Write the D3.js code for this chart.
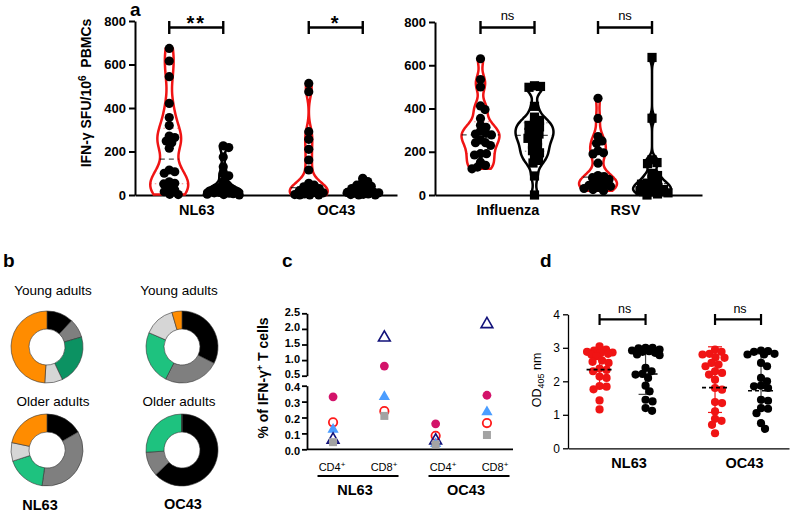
<!DOCTYPE html>
<html><head><meta charset="utf-8">
<script src="https://cdn.jsdelivr.net/npm/d3@7"></script>
<style>
body{margin:0;background:#fff}
svg text{font-family:"Liberation Sans",Arial,Helvetica,sans-serif}
</style></head>
<body><svg id="fig" width="792" height="513"></svg>
<script>
// ---------------- DATA ----------------
// panel a
const aLeftCategories = ["NL63", "OC43"];
const aRightCategories = ["Influenza", "RSV"];
const ageGroups = ["Young adults", "Older adults"];
const aTicks = [0, 200, 400, 600, 800];
const nl63Young = [674, 616, 544, 421, 356, 319, 271, 264, 248, 240, 215, 115, 107, 100, 61, 54, 51, 31, 23, 15, 3, 2];
const nl63Older = [226, 218, 175, 130, 98, 88, 62, 45, 38, 30, 25, 20, 18, 15, 12, 10, 8, 6, 4, 2, 0];
const oc43Young = [513, 475, 291, 256, 210, 161, 115, 54, 45, 38, 30, 23, 20, 12, 10, 5, 2, 0, 0, 0];
const oc43Older = [77, 62, 48, 45, 40, 30, 25, 20, 15, 12, 10, 8, 5, 3, 2, 0, 0];
const fluYoung = [630, 534, 500, 412, 395, 354, 323, 313, 296, 285, 282, 278, 255, 242, 242, 229, 191, 191, 185, 152, 137, 129, 121];
const fluOlder = [505, 502, 498, 410, 360, 345, 330, 322, 315, 300, 290, 282, 270, 262, 250, 235, 220, 205, 195, 180, 160, 148, 88, 0];
const rsvYoung = [447, 354, 270, 250, 239, 205, 195, 190, 147, 90, 85, 80, 72, 65, 55, 50, 45, 40, 35, 30, 25, 20];
const rsvOlder = [636, 355, 163, 150, 145, 100, 90, 72, 62, 55, 50, 42, 35, 30, 25, 20, 15, 10, 5, 0];
const aSignificance = ["**", "*", "ns", "ns"];

// panel b (percent of responders, clockwise from 12 o'clock)
const donutSegments = ["black", "grey", "green", "light grey", "orange"];
const nl63YoungDonut = [12, 8.5, 22.5, 8, 49];
const oc43YoungDonut = [32.5, 25, 24, 14, 4.5];
const nl63OlderDonut = [16.7, 35.5, 17.8, 8.3, 21.7];
const oc43OlderDonut = [63, 11, 26, 0, 0];

// panel c
const cCategories = ["NL63 CD4+", "NL63 CD8+", "OC43 CD4+", "OC43 CD8+"];
const cGroups = ["NL63", "OC43"];
const cSubsets = ["CD4", "CD8"];
const cTicksLow = [0.0, 0.1, 0.2, 0.3, 0.4];
const cTicksHigh = [0.5, 1.0, 1.5, 2.0, 2.5];
const cMagentaCircle = [0.33, 0.81, 0.16, 0.34];
const cRedOpenCircle = [0.17, 0.24, 0.085, 0.165];
const cBlueTriangle = [0.125, 0.33, 0.035, 0.235];
const cNavyOpenTriangle = [0.06, 1.72, 0.055, 2.15];
const cGreySquare = [0.045, 0.21, 0.03, 0.09];

// panel d
const dCategories = ["NL63", "OC43"];
const dTicks = [0, 1, 2, 3, 4];
const dNl63Young = [3.04, 2.95, 2.92, 2.88, 2.86, 2.84, 2.82, 2.79, 2.75, 2.62, 2.58, 2.55, 2.38, 2.34, 2.3, 2.14, 2.1, 1.86, 1.84, 1.76, 1.43, 1.16];
const dNl63Older = [3.0, 3.0, 2.98, 2.95, 2.92, 2.9, 2.88, 2.85, 2.8, 2.78, 2.4, 2.3, 2.22, 2.2, 2.1, 1.87, 1.7, 1.45, 1.4, 1.2, 1.12];
const dOc43Young = [2.95, 2.88, 2.82, 2.8, 2.72, 2.7, 2.55, 2.5, 2.45, 2.3, 2.25, 2.2, 2.05, 1.8, 1.75, 1.38, 1.35, 1.1, 0.88, 0.82, 0.7, 0.45];
const dOc43Older = [2.92, 2.9, 2.88, 2.82, 2.8, 2.8, 2.55, 2.45, 2.1, 2.0, 1.87, 1.85, 1.8, 1.45, 1.42, 1.2, 1.18, 1.05, 0.75, 0.58];
const dMedian = [2.35, 2.22, 1.81, 1.72];
const dLow = [1.79, 1.61, 1.07, 1.12];
const dHigh = [2.93, 2.85, 3.03, 2.82];

// ---------------- HELPERS ----------------
const svg = d3.select("#fig");
const RED = "#f01414";

function swarm(vals, y, cx, r, k, cap) {
  const order = vals.map((v, i) => i).sort((a, b) => vals[b] - vals[a]);
  const placed = [], out = new Array(vals.length), d = 2 * r * k;
  for (const i of order) {
    const yy = y(vals[i]); let best = 0, bestD = -1;
    for (let s = 0; s < 1000; s++) {
      const off = s === 0 ? 0 : (s % 2 ? 1 : -1) * Math.ceil(s / 2) * 0.5;
      if (Math.abs(off) > cap) break;
      const md = placed.length ? d3.min(placed, p => Math.hypot(p.x - off, p.y - yy)) : Infinity;
      if (md >= d) { best = off; bestD = md; break; }
      if (md > bestD + 0.01) { best = off; bestD = md; }
    }
    placed.push({x: best, y: yy});
    out[i] = {x: cx + best, y: yy, v: vals[i]};
  }
  return out;
}
function kdeShape(vals, n) {
  const sd = d3.deviation(vals), s = vals.slice().sort(d3.ascending);
  const iqr = d3.quantileSorted(s, 0.75) - d3.quantileSorted(s, 0.25);
  const h = 0.62 * 0.9 * Math.min(sd, iqr / 1.34 || sd) * Math.pow(vals.length, -0.2);
  const lo = d3.min(vals), hi = d3.max(vals);
  const pts = d3.range(n + 1).map(i => lo + (hi - lo) * i / n);
  const dens = pts.map(t => d3.mean(vals, v => Math.exp(-0.5 * ((t - v) / h) ** 2)));
  const m = d3.max(dens);
  return pts.map((t, i) => [t, dens[i] / m]);
}
function styleAxis(g, w, size, weight) {
  g.select(".domain").attr("stroke-width", w);
  g.selectAll(".tick line").attr("stroke-width", w);
  g.selectAll(".tick text").attr("font-size", size).attr("font-weight", weight).attr("fill", "#000");
}

// ---------------- PANEL A ----------------
const aY = d3.scaleLinear().domain([0, 800]).range([195, 21]);
const aYR = d3.scaleLinear().domain([0, 800]).range([195, 22]);
const aXL = d3.scalePoint().domain(aLeftCategories).range([135, 397]).padding(0.439);
const aXR = d3.scalePoint().domain(aRightCategories).range([435, 702]).padding(0.636).align(0.485);
const aSub = d3.scalePoint().domain(ageGroups).range([-27, 27]);

[[aXL, aY, 135], [aXR, aYR, 435]].forEach(([xs, ys, x0]) => {
  const gy = svg.append("g").attr("transform", `translate(${x0},0)`)
    .call(d3.axisLeft(ys).tickValues(aTicks).tickSize(6).tickSizeOuter(0).tickPadding(3));
  styleAxis(gy, 2, 13, "bold");
  const gx = svg.append("g").attr("transform", `translate(0,195)`)
    .call(d3.axisBottom(xs).tickSize(0).tickSizeOuter(0).tickPadding(10));
  styleAxis(gx, 2, 14.5, "bold");
});

const aGroups = [
  {cat: "NL63", xs: aXL, ys: aY, young: nl63Young, older: nl63Older, sq: false, sig: aSignificance[0]},
  {cat: "OC43", xs: aXL, ys: aY, young: oc43Young, older: oc43Older, sq: false, sig: aSignificance[1]},
  {cat: "Influenza", xs: aXR, ys: aYR, young: fluYoung, older: fluOlder, sq: true, sig: aSignificance[2]},
  {cat: "RSV", xs: aXR, ys: aYR, young: rsvYoung, older: rsvOlder, sq: true, sig: aSignificance[3]}
];
const gA = svg.append("g");
aGroups.forEach(G => {
  [[G.young, RED, ageGroups[0], false], [G.older, "#000", ageGroups[1], G.sq]].forEach(([vals, col, age, sq]) => {
    const cx = G.xs(G.cat) + aSub(age);
    const shape = kdeShape(vals, 80);
    const hw = 19;
    const area = d3.area().y(d => G.ys(d[0])).x0(d => cx - hw * d[1]).x1(d => cx + hw * d[1]).curve(d3.curveBasis);
    gA.append("path").attr("d", area(shape)).attr("fill", "none").attr("stroke", col).attr("stroke-width", 2.5);
    const s = vals.slice().sort(d3.ascending);
    const dens = v => { let best = shape[0]; shape.forEach(p => { if (Math.abs(p[0] - v) < Math.abs(best[0] - v)) best = p; }); return best[1]; };
    [0.25, 0.5, 0.75].forEach(q => {
      const v = d3.quantileSorted(s, q), w = hw * dens(v);
      gA.append("line").attr("x1", cx - w).attr("x2", cx + w).attr("y1", G.ys(v)).attr("y2", G.ys(v))
        .attr("stroke", q === 0.5 ? "#000" : col).attr("stroke-width", q === 0.5 ? 1.2 : 1)
        .attr("stroke-dasharray", q === 0.5 ? "5,4" : "1.5,3").attr("opacity", q === 0.5 ? 0.7 : 0.5);
    });
    const pts = swarm(vals, G.ys, cx, 4.6, 0.62, 16);
    if (sq) {
      gA.selectAll(null).data(pts).join("rect").attr("x", d => d.x - 4.6).attr("y", d => d.y - 4.6)
        .attr("width", 9.2).attr("height", 9.2).attr("fill", "#000");
    } else {
      gA.selectAll(null).data(pts).join("circle").attr("cx", d => d.x).attr("cy", d => d.y).attr("r", 4.6).attr("fill", "#000");
    }
  });
  // significance bracket
  const x1 = G.xs(G.cat) + aSub(ageGroups[0]), x2 = G.xs(G.cat) + aSub(ageGroups[1]);
  const b = gA.append("g").attr("stroke", "#000").attr("stroke-width", 2.4);
  b.append("line").attr("x1", x1).attr("x2", x2).attr("y1", 27.5).attr("y2", 27.5);
  b.append("line").attr("x1", x1).attr("x2", x1).attr("y1", 21).attr("y2", 34);
  b.append("line").attr("x1", x2).attr("x2", x2).attr("y1", 21).attr("y2", 34);
  const star = G.sig !== "ns";
  gA.append("text").attr("x", (x1 + x2) / 2).attr("y", star ? 29.5 : 20).attr("text-anchor", "middle")
    .attr("font-size", star ? 20 : 13).attr("font-weight", star ? "bold" : "normal")
    .attr("letter-spacing", star ? 2 : 0).text(G.sig);
});
// y title
const tA = svg.append("text").attr("transform", "translate(91,93) rotate(-90)").attr("text-anchor", "middle")
  .attr("font-size", 14).attr("font-weight", "bold");
tA.append("tspan").text("IFN-γ SFU/10");
tA.append("tspan").attr("dy", -5).attr("font-size", 10).text("6");
tA.append("tspan").attr("dy", 5).text("\u00a0 PBMCs");

// ---------------- PANEL B ----------------
const donutColors = {"black": "#000000", "grey": "#7f7f7f", "green": "#1ec27f", "light grey": "#d6d6d6", "orange": "#ff8c00"};
const donutColorsDark = Object.assign({}, donutColors, {"green": "#0c9262"});
const pie = d3.pie().sort(null).value(d => d.v);
const arc = d3.arc().innerRadius(18).outerRadius(36);
const donuts = [
  {vals: nl63YoungDonut, cx: 47, cy: 347, cols: donutColorsDark},
  {vals: oc43YoungDonut, cx: 182, cy: 347, cols: donutColors},
  {vals: nl63OlderDonut, cx: 47, cy: 450, cols: donutColors},
  {vals: oc43OlderDonut, cx: 182, cy: 450, cols: donutColors}
];
donuts.forEach(D => {
  const g = svg.append("g").attr("transform", `translate(${D.cx},${D.cy})`);
  g.selectAll("path").data(pie(D.vals.map((v, i) => ({v, k: donutSegments[i]})))).join("path")
    .attr("d", arc).attr("fill", d => D.cols[d.data.k]).attr("stroke", "#333").attr("stroke-width", 0.6);
});
[[53, 295, ageGroups[0]], [179, 295, ageGroups[0]], [53, 406, ageGroups[1]], [179, 406, ageGroups[1]]].forEach(([x, y, t]) =>
  svg.append("text").attr("x", x).attr("y", y).attr("text-anchor", "middle").attr("font-size", 13.5).text(t));
[[40, 510, aLeftCategories[0]], [183, 509, aLeftCategories[1]]].forEach(([x, y, t]) =>
  svg.append("text").attr("x", x).attr("y", y).attr("text-anchor", "middle").attr("font-size", 14.5).attr("font-weight", "bold").text(t));

// ---------------- PANEL C ----------------
const cX = d3.scalePoint().domain(cCategories).range([307, 513]).padding(0.508);
const cYLow = d3.scaleLinear().domain([0, 0.4]).range([449.3, 385.7]);
const cYHigh = d3.scaleLinear().domain([0.5, 2.5]).range([375.7, 313.3]);
const cY = v => v <= 0.45 ? cYLow(v) : cYHigh(v);
const fmt1 = d3.format(".1f");
[[cYLow, cTicksLow, 1.5], [cYHigh, cTicksHigh, -1.5]].forEach(([sc, tv, nudge]) => {
  const g = svg.append("g").attr("transform", "translate(307,0)")
    .call(d3.axisLeft(sc).tickValues(tv).tickFormat(fmt1).tickSize(5).tickSizeOuter(0).tickPadding(2));
  styleAxis(g, 1.8, 11, "bold");
  g.selectAll(".tick text").attr("y", nudge);
});
svg.append("line").attr("x1", 307).attr("x2", 513).attr("y1", 449.3).attr("y2", 449.3).attr("stroke", "#000").attr("stroke-width", 1.8);
const cGroupX = d3.scalePoint().domain(cGroups).range([307, 513]).padding(0.428).align(0.537);
const cSubX = d3.scalePoint().domain(cSubsets).range([-26, 26]);
cGroups.forEach(gname => {
  const gx = cGroupX(gname);
  cSubsets.forEach(sub => {
    const t = svg.append("text").attr("x", gx + cSubX(sub)).attr("y", 471).attr("text-anchor", "middle").attr("font-size", 11);
    t.append("tspan").text(sub);
    t.append("tspan").attr("dy", -4).attr("font-size", 8).text("+");
  });
  svg.append("line").attr("x1", gx - 40.5).attr("x2", gx + 40.5).attr("y1", 476).attr("y2", 476).attr("stroke", "#000").attr("stroke-width", 1.8);
  svg.append("text").attr("x", gx - 3).attr("y", 495).attr("text-anchor", "middle").attr("font-size", 14.5).attr("font-weight", "bold").text(gname);
});
const tC = svg.append("text").attr("transform", "translate(268,378) rotate(-90)").attr("text-anchor", "middle")
  .attr("font-size", 14).attr("font-weight", "bold");
tC.append("tspan").text("% of IFN-γ");
tC.append("tspan").attr("dy", -5).attr("font-size", 9).text("+");
tC.append("tspan").attr("dy", 5).text(" T cells");
const gC = svg.append("g");
gC.selectAll(null).data(cMagentaCircle).join("circle").attr("cx", (d, i) => cX(cCategories[i])).attr("cy", d => cY(d)).attr("r", 4.4).attr("fill", "#d3136a");
gC.selectAll(null).data(cRedOpenCircle).join("circle").attr("cx", (d, i) => cX(cCategories[i])).attr("cy", d => cY(d)).attr("r", 4.2).attr("fill", "#fff").attr("stroke", "#ff1a1a").attr("stroke-width", 1.8);
const tri = d3.symbol().type(d3.symbolTriangle);
gC.selectAll(null).data(cBlueTriangle).join("path").attr("d", tri.size(55)()).attr("transform", (d, i) => `translate(${cX(cCategories[i])},${cY(d)})`).attr("fill", "#4b9dff");
gC.selectAll(null).data(cNavyOpenTriangle).join("path").attr("d", tri.size(60)()).attr("transform", (d, i) => `translate(${cX(cCategories[i])},${cY(d)})`).attr("fill", "none").attr("stroke", "#12127a").attr("stroke-width", 1.6);
gC.selectAll(null).data(cGreySquare).join("rect").attr("x", (d, i) => cX(cCategories[i]) - 4).attr("y", d => cY(d) - 4).attr("width", 8).attr("height", 8).attr("fill", "#a3a3a3");

// ---------------- PANEL D ----------------
const dY = d3.scaleLinear().domain([0, 4]).range([448.3, 314.3]);
const dX = d3.scalePoint().domain(dCategories).range([568, 789]).padding(0.457).align(0.517);
const dSub = d3.scalePoint().domain(ageGroups).range([-23, 23]);
const gdy = svg.append("g").attr("transform", "translate(568,0)")
  .call(d3.axisLeft(dY).tickValues(dTicks).tickFormat(d3.format("d")).tickSize(5).tickSizeOuter(0).tickPadding(3));
styleAxis(gdy, 1.3, 12, "normal");
const gdx = svg.append("g").attr("transform", "translate(0,448.3)")
  .call(d3.axisBottom(dX).tickSize(0).tickSizeOuter(0).tickPadding(9));
styleAxis(gdx, 1.3, 14.5, "bold");
gdx.selectAll(".tick text").attr("dx", 6);
const tD = svg.append("text").attr("transform", "translate(541,380) rotate(-90)").attr("text-anchor", "middle").attr("font-size", 12.5);
tD.append("tspan").text("OD");
tD.append("tspan").attr("dy", 3).attr("font-size", 9).text("405");
tD.append("tspan").attr("dy", -3).text(" nm");
const dSets = [[dNl63Young, "NL63", ageGroups[0], RED], [dNl63Older, "NL63", ageGroups[1], "#000"],
               [dOc43Young, "OC43", ageGroups[0], RED], [dOc43Older, "OC43", ageGroups[1], "#000"]];
const gD = svg.append("g");
dSets.forEach(([vals, cat, age, col], i) => {
  const cx = dX(cat) + dSub(age);
  const ec = col === "#000" ? "#444" : col;
  gD.append("line").attr("x1", cx).attr("x2", cx).attr("y1", dY(dLow[i])).attr("y2", dY(dHigh[i])).attr("stroke", ec).attr("stroke-width", 1.2);
  [dLow[i], dHigh[i]].forEach(v => gD.append("line").attr("x1", cx - 7).attr("x2", cx + 7).attr("y1", dY(v)).attr("y2", dY(v)).attr("stroke", ec).attr("stroke-width", 1.2));
  const pts = swarm(vals, dY, cx, 4.1, 0.82, 14);
  gD.selectAll(null).data(pts).join("circle").attr("cx", d => d.x).attr("cy", d => d.y).attr("r", 4.1).attr("fill", col);
  gD.append("line").attr("x1", cx - 13).attr("x2", cx + 13).attr("y1", dY(dMedian[i])).attr("y2", dY(dMedian[i]))
    .attr("stroke", "#000").attr("stroke-width", 1.6).attr("stroke-dasharray", "4,3");
});
dCategories.forEach(cat => {
  const x1 = dX(cat) + dSub(ageGroups[0]), x2 = dX(cat) + dSub(ageGroups[1]);
  const b = gD.append("g").attr("stroke", "#000").attr("stroke-width", 2.2);
  b.append("line").attr("x1", x1).attr("x2", x2).attr("y1", 319.3).attr("y2", 319.3);
  b.append("line").attr("x1", x1).attr("x2", x1).attr("y1", 314).attr("y2", 325);
  b.append("line").attr("x1", x2).attr("x2", x2).attr("y1", 314).attr("y2", 325);
  gD.append("text").attr("x", (x1 + x2) / 2 + 2).attr("y", 313).attr("text-anchor", "middle").attr("font-size", 12.5).text("ns");
});

// ---------------- PANEL LABELS ----------------
[["a", 130, 16], ["b", 3, 267], ["c", 282, 267], ["d", 540, 267]].forEach(([t, x, y]) =>
  svg.append("text").attr("x", x).attr("y", y).attr("font-size", 19).attr("font-weight", "bold").text(t));
</script></body></html>
